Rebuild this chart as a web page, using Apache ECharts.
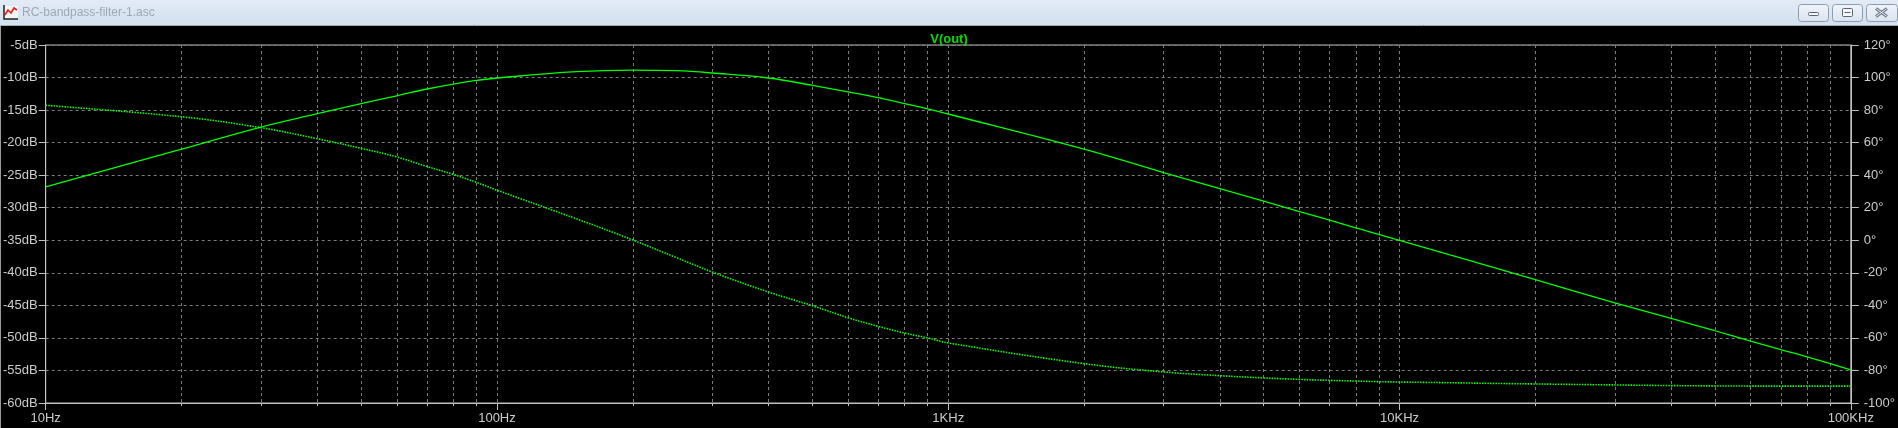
<!DOCTYPE html>
<html><head><meta charset="utf-8">
<script src="https://cdn.jsdelivr.net/npm/echarts@6/dist/echarts.min.js"></script>
<style>html,body{margin:0;padding:0;background:#000;overflow:hidden}#c{width:1898px;height:428px}</style>
</head><body><div id="c"></div>
<script>
// ---- data (frequency in Hz) ----
const freqs = [10,20,30,40,50,60,70,80,90,100,150,200,250,300,400,500,600,700,800,900,1000,2000,3000,4000,5000,6000,7000,8000,9000,10000,20000,30000,40000,50000,60000,70000,80000,90000,100000];
const magDb = [-26.8,-21.0,-17.6,-15.55,-14.0,-12.8,-11.76,-11.0,-10.45,-10.07,-9.1,-8.85,-8.95,-9.3,-10.07,-11.2,-12.2,-13.1,-14.0,-14.8,-15.6,-21.0,-24.6,-27.05,-29.0,-30.6,-31.9,-33.1,-34.1,-35.0,-41.05,-44.6,-47.0,-48.9,-50.5,-51.8,-52.9,-53.95,-54.9];
const phaseDeg = [82.9,75.9,69.2,62.4,56.5,51.2,45.3,40.5,35.6,30.8,13.2,0.2,-10.7,-19.5,-31.8,-40.2,-47.6,-52.9,-57.0,-60.0,-63.1,-75.8,-80.9,-83.2,-84.6,-85.5,-86.1,-86.5,-86.9,-87.1,-88.3,-88.9,-89.3,-89.5,-89.6,-89.6,-89.6,-89.6,-89.6];
const decadeTicks = [10,100,1000,10000,100000];
const decadeLabels = ['10Hz','100Hz','1KHz','10KHz','100KHz'];
const minorTicks = [20,30,40,50,60,70,80,90,200,300,400,500,600,700,800,900,2000,3000,4000,5000,6000,7000,8000,9000,20000,30000,40000,50000,60000,70000,80000,90000];
const traceName = 'V(out)';
const windowTitle = 'RC-bandpass-filter-1.asc';

const magData = freqs.map((f,i)=>[f,magDb[i]]);
const phaseData = freqs.map((f,i)=>[f,phaseDeg[i]]);

const FRAME = '#c0c0c0', GRID = '#7a7a7a', LBL = '#cccccc', TRACE = '#00ff00';
const font = 'Liberation Sans, Arial, sans-serif';

const chart = echarts.init(document.getElementById('c'), null, {renderer:'canvas'});
const barGrad = new echarts.graphic.LinearGradient(0,0,0,1,[{offset:0,color:'#e2ebf6'},{offset:1,color:'#d3e0ef'}]);
const btnGrad = () => new echarts.graphic.LinearGradient(0,0,0,1,[{offset:0,color:'#f1f5fa'},{offset:1,color:'#d9e3ef'}]);
const btnStroke = '#8d9cb0', glyph = '#56657a';

chart.setOption({
  backgroundColor:'#000',
  animation:false,
  title:{text:traceName,left:'center',top:28,textStyle:{color:'#00e000',fontSize:13,fontWeight:'bold',fontFamily:font}},
  grid:{left:45,top:45,width:1807,height:358,show:true,borderColor:FRAME,borderWidth:1,backgroundColor:'#000',containLabel:false},
  xAxis:[
    {type:'log',logBase:10,min:10,max:100000,position:'bottom',
      axisLine:{show:true,onZero:false,lineStyle:{color:FRAME}},
      axisTick:{show:true,length:7,customValues:decadeTicks,lineStyle:{color:FRAME}},
      splitLine:{show:true,lineStyle:{color:GRID,type:[3,3]}},
      axisLabel:{color:LBL,fontSize:13,fontFamily:font,margin:9,customValues:decadeTicks,
        formatter:v=>decadeLabels[decadeTicks.indexOf(Math.round(v))]||''}},
    {type:'log',logBase:10,min:10,max:100000,position:'bottom',
      axisLine:{show:false,onZero:false},
      axisTick:{show:true,length:3,customValues:minorTicks,lineStyle:{color:FRAME}},
      splitLine:{show:true,lineStyle:{color:GRID,type:[3,3]}},
      axisLabel:{show:false}}
  ],
  yAxis:[
    {type:'value',min:-60,max:-5,interval:5,position:'left',
      axisLine:{show:true,onZero:false,lineStyle:{color:FRAME}},
      axisTick:{show:true,length:7,lineStyle:{color:FRAME}},
      splitLine:{show:true,lineStyle:{color:GRID,type:[3,3]}},
      axisLabel:{color:LBL,fontSize:13,fontFamily:font,margin:8,formatter:v=>v+'dB'}},
    {type:'value',min:-100,max:120,interval:20,position:'right',
      axisLine:{show:true,onZero:false,lineStyle:{color:FRAME}},
      axisTick:{show:true,length:8,lineStyle:{color:FRAME}},
      splitLine:{show:false},
      axisLabel:{color:LBL,fontSize:13,fontFamily:font,margin:13,formatter:v=>v+'°'}}
  ],
  series:[
    {name:'mag',type:'line',xAxisIndex:0,yAxisIndex:0,data:magData,showSymbol:false,smooth:0.4,
      lineStyle:{color:TRACE,width:1.3},silent:true,z:5},
    {name:'phase',type:'line',xAxisIndex:0,yAxisIndex:1,data:phaseData,showSymbol:false,smooth:0.4,
      lineStyle:{color:TRACE,width:1.6,type:[1.5,1.2]},silent:true,z:5}
  ],
  graphic:[
    {type:'rect',shape:{x:0,y:0,width:1898,height:25},style:{fill:barGrad},z:100,silent:true},
    {type:'line',shape:{x1:0,y1:25.5,x2:1898,y2:25.5},style:{stroke:'#a3adb8',lineWidth:1},z:100,silent:true},
    {type:'line',shape:{x1:0.5,y1:26,x2:0.5,y2:428},style:{stroke:'#9a9a9a',lineWidth:1},z:100,silent:true},
    // app icon
    {type:'rect',shape:{x:4,y:6,width:14,height:13},style:{fill:'#f4f4f4',stroke:null},z:101,silent:true},
    {type:'polyline',shape:{points:[[4,5],[4,19],[18,19]]},style:{stroke:'#202020',lineWidth:1.5,fill:null},z:102,silent:true},
    {type:'polyline',shape:{points:[[5,15],[8,10],[11,13],[14,8],[17,10]]},style:{stroke:'#e02020',lineWidth:1.6,fill:null},z:102,silent:true},
    {type:'text',x:22,y:13,style:{text:windowTitle,fill:'#9da8b4',font:'12px '+font,textVerticalAlign:'middle'},z:101,silent:true},
    // window buttons
    {type:'rect',shape:{x:1798.5,y:4.5,width:30,height:17,r:3},style:{fill:btnGrad(),stroke:btnStroke},z:101,silent:true},
    {type:'rect',shape:{x:1808.5,y:12.5,width:10,height:3,r:1},style:{fill:'#f7f9fc',stroke:glyph},z:102,silent:true},
    {type:'rect',shape:{x:1832.5,y:4.5,width:30,height:17,r:3},style:{fill:btnGrad(),stroke:btnStroke},z:101,silent:true},
    {type:'rect',shape:{x:1842.5,y:8.5,width:10,height:8,r:1},style:{fill:'#f7f9fc',stroke:glyph},z:102,silent:true},
    {type:'line',shape:{x1:1844.5,y1:12.5,x2:1850.5,y2:12.5},style:{stroke:glyph,lineWidth:1},z:103,silent:true},
    {type:'rect',shape:{x:1866.5,y:4.5,width:31,height:17,r:3},style:{fill:btnGrad(),stroke:btnStroke},z:101,silent:true},
    {type:'line',shape:{x1:1876,y1:8.5,x2:1887,y2:16.5},style:{stroke:'#6c7a8c',lineWidth:3},z:102,silent:true},
    {type:'line',shape:{x1:1887,y1:8.5,x2:1876,y2:16.5},style:{stroke:'#6c7a8c',lineWidth:3},z:102,silent:true},
    {type:'line',shape:{x1:1876.5,y1:8.9,x2:1886.5,y2:16.1},style:{stroke:'#eef2f7',lineWidth:1},z:103,silent:true},
    {type:'line',shape:{x1:1886.5,y1:8.9,x2:1876.5,y2:16.1},style:{stroke:'#eef2f7',lineWidth:1},z:103,silent:true}
  ]
});
</script></body></html>
